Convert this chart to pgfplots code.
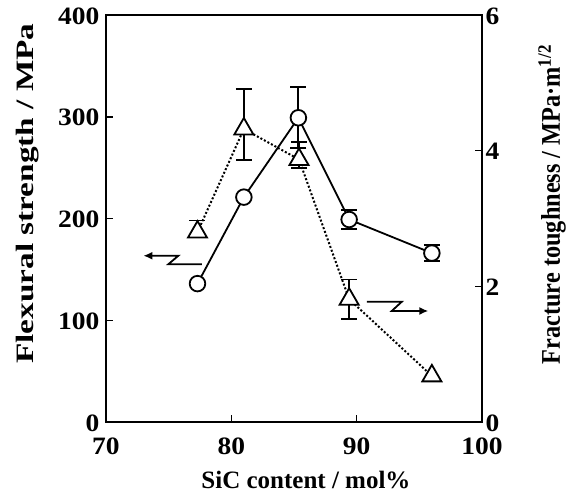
\documentclass[border=0pt]{standalone}
\usepackage{fontspec}
\setmainfont{Liberation Serif}
\newfontfamily\stretchfont[FakeStretch=1.33]{Liberation Serif}
\newfontfamily\tickfont[FakeStretch=1.1]{Liberation Serif}
\newfontfamily\condfont[FakeStretch=0.9]{Liberation Serif}
\usepackage{pgfplots}
\pgfplotsset{compat=1.18}
\usetikzlibrary{arrows.meta}
\begin{document}
\begin{tikzpicture}[font=\fontsize{25bp}{30bp}\selectfont\bfseries]
\path[use as bounding box] (-106bp,-76bp) rectangle (463bp,422bp);
\pgfplotsset{
  common/.style={
    scale only axis, width=376bp, height=407bp,
    xmin=70, xmax=100,
    tick align=inside, major tick length=7bp,
    axis line style={line width=2bp},
    tick style={line width=1.5bp, black},
    /pgf/number format/assume math mode=true,
    ticklabel style={font=\fontsize{25bp}{30bp}\tickfont\bfseries},
    clip=false,
  },
  ebar/.style={only marks, mark=none, forget plot,
    error bars/.cd, y dir=#1, y explicit,
    error mark options={rotate=90, mark size=8bp, line width=1.8bp, black},
    error bar style={line width=1.8bp, black}},
  ebar/.default=both,
}
\begin{axis}[common,
  ymin=0, ymax=400,
  xtick={70,80,90,100}, ytick={0,100,200,300,400},
  xtick pos=bottom, ytick pos=left,
  xticklabel style={yshift=-12bp},
  yticklabel style={xshift=-3bp, yshift=-1bp},
]
\addplot[ebar] coordinates {(85.35,299) +- (0,30) (89.4,199) +- (0,9) (96.0,166) +- (0,8)};
\addplot[line width=1.8bp, black, mark=*, mark size=7.8bp,
  mark options={fill=white, draw=black, line width=1.8bp}]
  coordinates {(77.3,136) (81.0,221) (85.35,299) (89.4,199) (96.0,166)};
\draw[line width=1.8bp, -{Latex[length=9bp,width=8bp]}]
  (axis cs:77.64,155) -- (axis cs:74.97,155) -- (axis cs:75.77,163.4) -- (axis cs:72.98,163.4);
\draw[line width=1.8bp, -{Latex[length=9bp,width=8bp]}]
  (axis cs:90.81,118.2) -- (axis cs:93.6,118.2) -- (axis cs:92.8,109.1) -- (axis cs:95.72,109.1);
\end{axis}
\begin{axis}[common,
  ymin=0, ymax=6, ytick={0,2,4,6},
  axis x line=none, axis y line*=right, ytick pos=right,
  yticklabel style={yshift=-1bp},
]
\addplot[ebar] coordinates {(81.0,4.32) += (0,0.585) -= (0,0.46)
  (85.4,3.87) += (0,0.26) -= (0,0.13) (89.4,1.81) +- (0,0.29)};
\addplot[ebar=plus] coordinates {(77.3,2.80) +- (0,0.17)};
\addplot[line width=2bp, black, dash pattern=on 2bp off 2bp, mark=triangle*, mark size=11bp,
  mark options={fill=white, draw=black, line width=1.8bp, solid}]
  coordinates {(77.3,2.80) (81.0,4.32) (85.4,3.87) (89.4,1.81) (96.0,0.68)};
\end{axis}
\node at (200bp,-58bp) {SiC content / mol\%};
\node[rotate=90] at (-78bp,228.5bp) {\stretchfont\bfseries Flexural strength / MPa};
\node[rotate=90] at (446bp,217.5bp) {\fontsize{27bp}{30bp}\condfont\bfseries Fracture toughness / MPa·m\textsuperscript{1/2}};
\end{tikzpicture}
\end{document}
